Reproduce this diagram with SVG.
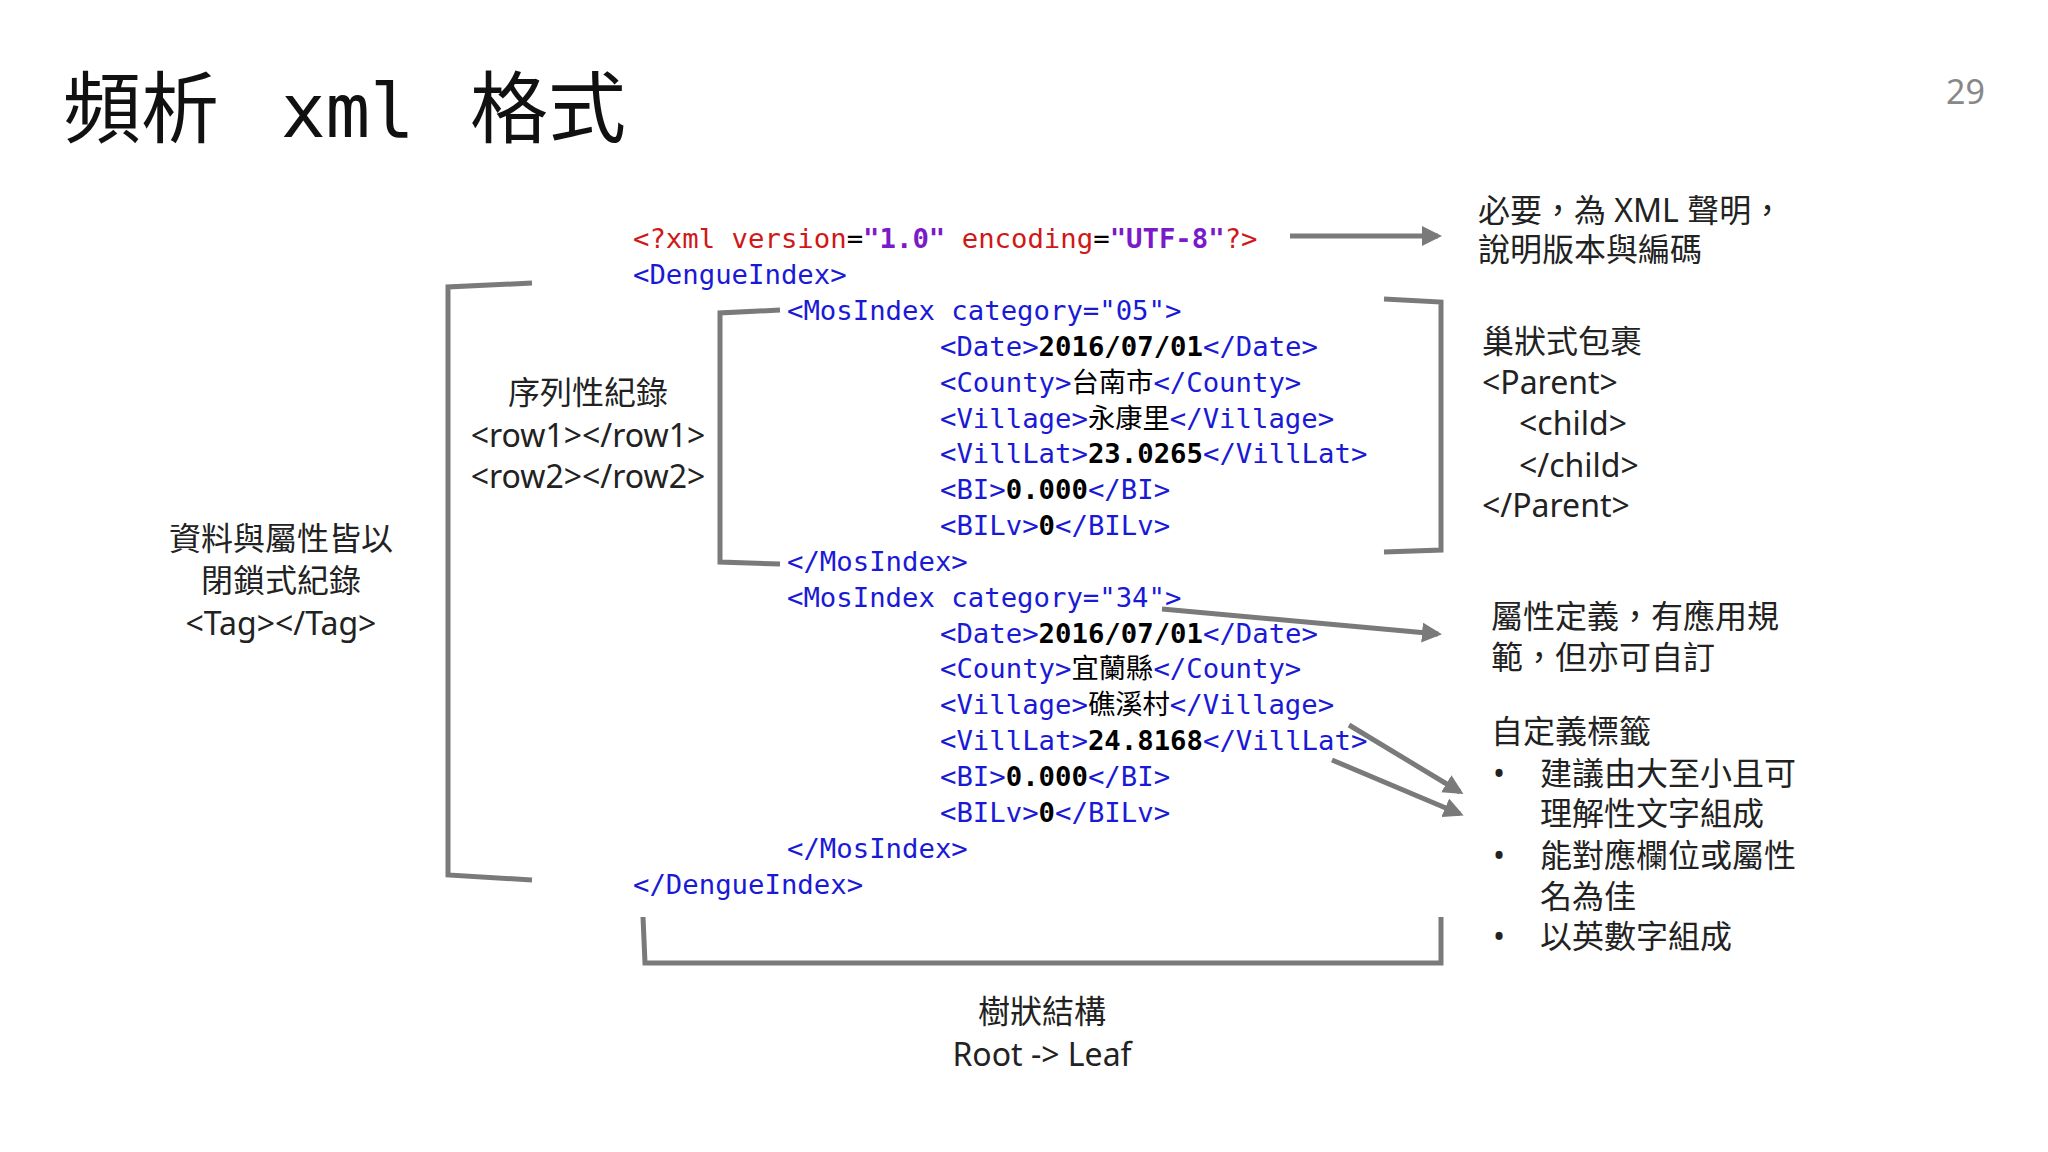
<svg xmlns="http://www.w3.org/2000/svg" width="2048" height="1152" viewBox="0 0 2048 1152">
<style>
.c{font-family:"DejaVu Sans Mono","Liberation Mono",monospace;font-size:27.3px}
.t{fill:#1a1ad6}.a{fill:#d01818}.v{fill:#7a1ac8;font-weight:bold}.k{fill:#000;font-weight:bold}.z{fill:#000;font-family:"Noto Sans CJK TC",sans-serif}
.n{font-family:"Noto Sans","Noto Sans CJK TC",sans-serif;font-size:32px;fill:#222}
.b{fill:none;stroke:#7a7a7a;stroke-width:5}
.ar{stroke:#7a7a7a;stroke-width:5;fill:none;marker-end:url(#h)}
</style>
<defs><marker id="h" viewBox="0 0 10 10" refX="8" refY="5" markerWidth="4" markerHeight="4" orient="auto"><path d="M0,0L10,5L0,10z" fill="#7a7a7a"/></marker></defs>
<rect width="2048" height="1152" fill="#fff"/>
<g id="title">
<text x="63" y="137" font-family="Noto Sans CJK TC,sans-serif" font-size="78" fill="#111">頻析</text>
<text x="281" y="137" font-family="DejaVu Sans Mono,monospace" font-size="74" fill="#111">xml</text>
<text x="470" y="137" font-family="Noto Sans CJK TC,sans-serif" font-size="78" fill="#111">格式</text>
<text x="1946" y="104" font-family="Noto Sans,sans-serif" font-size="34" fill="#888">29</text>
</g>
<g id="code" class="c">
<text x="633" y="248"><tspan class="a">&lt;?xml version</tspan>=<tspan class="v">"1.0"</tspan> <tspan class="a">encoding</tspan>=<tspan class="v">"UTF-8"</tspan><tspan class="a">?&gt;</tspan></text>
<text x="633" y="284" class="t">&lt;DengueIndex&gt;</text>
<text x="787" y="320" class="t">&lt;MosIndex category="05"&gt;</text>
<text x="940" y="356"><tspan class="t">&lt;Date&gt;</tspan><tspan class="k">2016/07/01</tspan><tspan class="t">&lt;/Date&gt;</tspan></text>
<text x="940" y="392"><tspan class="t">&lt;County&gt;</tspan><tspan class="z">台南市</tspan><tspan class="t">&lt;/County&gt;</tspan></text>
<text x="940" y="428"><tspan class="t">&lt;Village&gt;</tspan><tspan class="z">永康里</tspan><tspan class="t">&lt;/Village&gt;</tspan></text>
<text x="940" y="463"><tspan class="t">&lt;VillLat&gt;</tspan><tspan class="k">23.0265</tspan><tspan class="t">&lt;/VillLat&gt;</tspan></text>
<text x="940" y="499"><tspan class="t">&lt;BI&gt;</tspan><tspan class="k">0.000</tspan><tspan class="t">&lt;/BI&gt;</tspan></text>
<text x="940" y="535"><tspan class="t">&lt;BILv&gt;</tspan><tspan class="k">0</tspan><tspan class="t">&lt;/BILv&gt;</tspan></text>
<text x="787" y="571" class="t">&lt;/MosIndex&gt;</text>
<text x="787" y="607" class="t">&lt;MosIndex category="34"&gt;</text>
<text x="940" y="643"><tspan class="t">&lt;Date&gt;</tspan><tspan class="k">2016/07/01</tspan><tspan class="t">&lt;/Date&gt;</tspan></text>
<text x="940" y="678"><tspan class="t">&lt;County&gt;</tspan><tspan class="z">宜蘭縣</tspan><tspan class="t">&lt;/County&gt;</tspan></text>
<text x="940" y="714"><tspan class="t">&lt;Village&gt;</tspan><tspan class="z">礁溪村</tspan><tspan class="t">&lt;/Village&gt;</tspan></text>
<text x="940" y="750"><tspan class="t">&lt;VillLat&gt;</tspan><tspan class="k">24.8168</tspan><tspan class="t">&lt;/VillLat&gt;</tspan></text>
<text x="940" y="786"><tspan class="t">&lt;BI&gt;</tspan><tspan class="k">0.000</tspan><tspan class="t">&lt;/BI&gt;</tspan></text>
<text x="940" y="822"><tspan class="t">&lt;BILv&gt;</tspan><tspan class="k">0</tspan><tspan class="t">&lt;/BILv&gt;</tspan></text>
<text x="787" y="858" class="t">&lt;/MosIndex&gt;</text>
<text x="633" y="894" class="t">&lt;/DengueIndex&gt;</text>
</g>
<g id="connectors">
<path class="b" d="M532,283 L448,287 L448,875 L532,880"/>
<path class="b" d="M780,310 L720,313 L720,562 L780,564"/>
<path class="b" d="M1384,299 L1441,302 L1441,550 L1384,552"/>
<path class="b" d="M643,917 L645,963 L1441,963 L1441,917"/>
<path class="ar" d="M1290,236 L1438,236"/>
<path class="ar" d="M1162,609 L1438,634"/>
<path class="ar" d="M1349,725 L1460,792"/>
<path class="ar" d="M1332,760 L1460,814"/>
</g>
<g id="note-decl" class="n">
<text x="1478" y="222">必要，為 XML 聲明，</text>
<text x="1478" y="261">說明版本與編碼</text>
</g>
<g id="note-nest" class="n">
<text x="1482" y="353">巢狀式包裹</text>
<text x="1482" y="394">&lt;Parent&gt;</text>
<text x="1519" y="435">&lt;child&gt;</text>
<text x="1519" y="477">&lt;/child&gt;</text>
<text x="1482" y="517">&lt;/Parent&gt;</text>
</g>
<g id="note-attr" class="n">
<text x="1491" y="628">屬性定義，有應用規</text>
<text x="1491" y="669">範，但亦可自訂</text>
</g>
<g id="note-tag" class="n">
<text x="1491" y="743">自定義標籤</text>
<text x="1493" y="785">•</text><text x="1540" y="785">建議由大至小且可</text>
<text x="1540" y="825">理解性文字組成</text>
<text x="1493" y="867">•</text><text x="1540" y="867">能對應欄位或屬性</text>
<text x="1540" y="908">名為佳</text>
<text x="1493" y="948">•</text><text x="1540" y="948">以英數字組成</text>
</g>
<g id="note-row" class="n" text-anchor="middle">
<text x="588" y="404">序列性紀錄</text>
<text x="588" y="447">&lt;row1&gt;&lt;/row1&gt;</text>
<text x="588" y="488">&lt;row2&gt;&lt;/row2&gt;</text>
</g>
<g id="note-closed" class="n" text-anchor="middle">
<text x="281" y="550">資料與屬性皆以</text>
<text x="281" y="592">閉鎖式紀錄</text>
<text x="281" y="635">&lt;Tag&gt;&lt;/Tag&gt;</text>
</g>
<g id="note-tree" class="n" text-anchor="middle">
<text x="1042" y="1023">樹狀結構</text>
<text x="1042" y="1066">Root -&gt; Leaf</text>
</g>
</svg>
